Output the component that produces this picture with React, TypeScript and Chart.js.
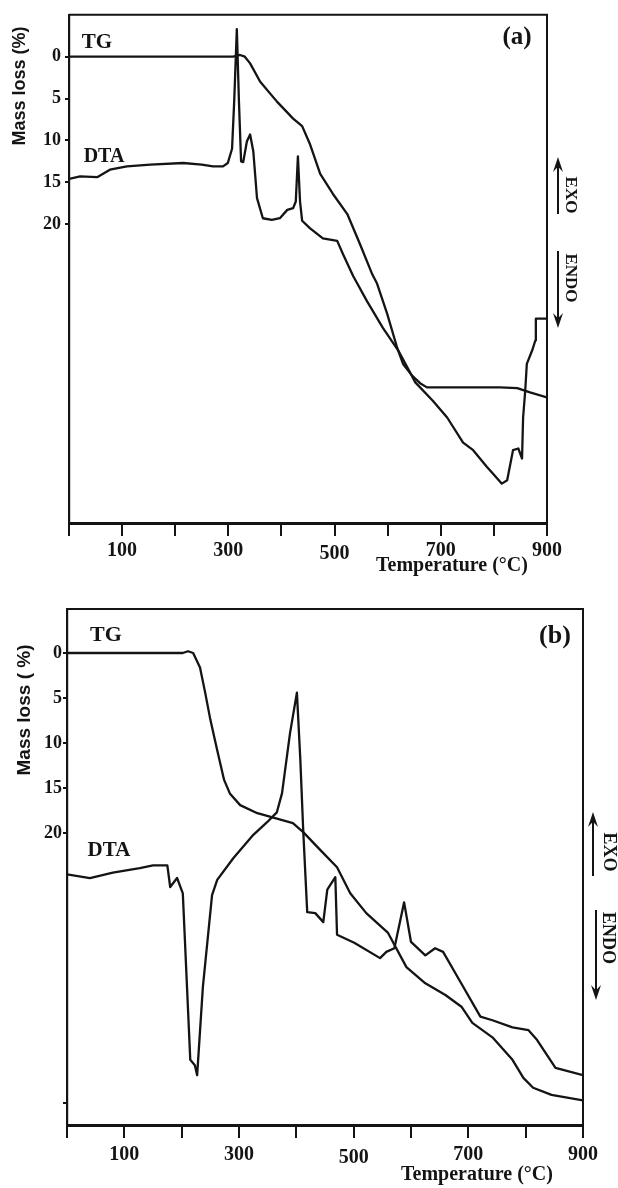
import React, { useEffect, useRef } from 'react';
import { Chart, registerables } from 'chart.js';

Chart.register(...registerables);

const SERIF = "'Liberation Serif', 'DejaVu Serif', serif";
const SANS = "'Liberation Sans', Arial, sans-serif";
const INK = '#141414';

// ---- axis ticks ----
const temperatureTicks = [0, 100, 200, 300, 400, 500, 600, 700, 800, 900];
const temperatureLabels = [100, 300, 500, 700, 900];
const massLossTicksA = [0, 5, 10, 15, 20];
const massLossTicksB = [0, 5, 10, 15, 20, 50];
const massLossLabels = [0, 5, 10, 15, 20];

// ---- panel (a) ----
const tgTempA = [0, 309, 322, 331, 341, 360, 392, 422, 439, 454, 473, 497, 524, 548, 571, 580, 599, 618, 629, 646, 661, 674, 750, 812, 844, 868, 900];
const tgMassA = [0, 0, -0.2, 0, 0.8, 3.0, 5.4, 7.4, 8.3, 10.5, 14.0, 16.4, 18.8, 22.4, 26.0, 27.1, 30.7, 34.8, 36.7, 38.1, 39.0, 39.5, 39.5, 39.5, 39.6, 40.1, 40.7];

const dtaTempA = [0, 21, 53, 77, 109, 153, 215, 250, 271, 290, 299, 307, 311, 316, 320, 324, 328, 335, 341, 347, 354, 365, 382, 397, 411, 422, 427, 431, 435, 439, 454, 478, 505, 516, 535, 561, 591, 620, 637, 652, 685, 712, 742, 761, 787, 798, 815, 825, 836, 846, 853, 855, 859, 862, 872, 878, 879, 900];
const dtaSignalA = [14.6, 14.3, 14.4, 13.5, 13.1, 12.9, 12.7, 12.9, 13.1, 13.1, 12.7, 11.0, 5.4, -3.3, 5.4, 12.5, 12.6, 10.1, 9.3, 11.3, 16.9, 19.3, 19.5, 19.3, 18.3, 18.1, 17.3, 11.9, 17.3, 19.6, 20.5, 21.7, 22.0, 23.6, 26.2, 29.2, 32.4, 35.1, 37.1, 38.9, 41.1, 43.1, 46.1, 47.0, 49.0, 49.8, 51.0, 50.6, 47.0, 46.8, 48.0, 43.1, 39.9, 36.7, 35.1, 33.9, 31.3, 31.3];

// ---- panel (b) ----
const tgTempB = [0, 202, 211, 220, 232, 241, 250, 262, 274, 284, 302, 332, 360, 394, 412, 442, 471, 494, 522, 560, 592, 625, 660, 688, 707, 742, 777, 796, 813, 845, 900];
const tgMassB = [0, 0, -0.2, 0, 1.6, 4.4, 7.4, 10.8, 14.1, 15.6, 16.9, 17.8, 18.3, 18.9, 19.9, 21.9, 23.8, 26.7, 28.9, 31.1, 34.9, 36.7, 38.0, 39.3, 41.1, 42.7, 45.2, 47.2, 48.3, 49.1, 49.7];

const dtaTempB = [0, 40, 80, 127, 150, 175, 180, 192, 202, 215, 223, 227, 237, 253, 262, 290, 325, 349, 366, 375, 389, 401, 407, 412, 419, 433, 447, 454, 468, 471, 501, 546, 557, 571, 588, 600, 625, 642, 656, 684, 721, 742, 777, 805, 820, 852, 900];
const dtaSignalB = [24.6, 25.0, 24.4, 23.9, 23.6, 23.6, 26.0, 25.0, 26.7, 45.2, 45.8, 46.9, 37.1, 26.9, 25.2, 22.8, 20.2, 18.8, 17.7, 15.6, 8.9, 4.4, 11.9, 19.7, 28.8, 28.9, 29.9, 26.3, 24.9, 31.3, 32.2, 33.9, 33.2, 32.8, 27.7, 32.1, 33.6, 32.8, 33.2, 36.3, 40.4, 40.8, 41.6, 41.9, 43.0, 46.1, 46.9];

type Note = { text: string; x: number; y: number; size: number; family: string; rot?: number };
type Arrow = { x: number; from: number; tip: number };

type PanelSpec = {
  tgT: number[]; tgV: number[]; dtaT: number[]; dtaV: number[];
  yMin: number; yMax: number; yTicks: number[];
  area: { left: number; right: number; top: number; bottom: number };
  yTickPad: number; xTickPad: number;
  notes: Note[]; arrows: Arrow[];
};

const panelA: PanelSpec = {
  tgT: tgTempA, tgV: tgMassA, dtaT: dtaTempA, dtaV: dtaSignalA,
  yMin: -5.0, yMax: 55.7, yTicks: massLossTicksA,
  area: { left: 69, right: 547, top: 13, bottom: 523 },
  yTickPad: 4, xTickPad: 3,
  notes: [
    { text: 'TG', x: 97, y: 43, size: 21, family: SERIF },
    { text: 'DTA', x: 104, y: 157, size: 20, family: SERIF },
    { text: '(a)', x: 517, y: 38, size: 25, family: SERIF },
    { text: 'Mass loss (%)', x: 20, y: 86, size: 18, family: SANS, rot: -Math.PI / 2 },
    { text: 'Temperature (°C)', x: 452, y: 566, size: 20, family: SERIF },
    { text: 'EXO', x: 570, y: 195, size: 17, family: SERIF, rot: Math.PI / 2 },
    { text: 'ENDO', x: 570, y: 278, size: 17, family: SERIF, rot: Math.PI / 2 },
  ],
  arrows: [
    { x: 558, from: 214, tip: 157 },
    { x: 558, from: 251, tip: 328 },
  ],
};

const panelB: PanelSpec = {
  tgT: tgTempB, tgV: tgMassB, dtaT: dtaTempB, dtaV: dtaSignalB,
  yMin: -4.89, yMax: 52.44, yTicks: massLossTicksB,
  area: { left: 67, right: 583, top: 19, bottom: 535 },
  yTickPad: 1, xTickPad: 5,
  notes: [
    { text: 'TG', x: 106, y: 45, size: 22, family: SERIF },
    { text: 'DTA', x: 109, y: 261, size: 21, family: SERIF },
    { text: '(b)', x: 555, y: 46, size: 26, family: SERIF },
    { text: 'Mass loss ( %)', x: 25, y: 120, size: 19, family: SANS, rot: -Math.PI / 2 },
    { text: 'Temperature (°C)', x: 477, y: 585, size: 20, family: SERIF },
    { text: 'EXO', x: 609, y: 262, size: 18, family: SERIF, rot: Math.PI / 2 },
    { text: 'ENDO', x: 608, y: 348, size: 18, family: SERIF, rot: Math.PI / 2 },
  ],
  arrows: [
    { x: 593, from: 286, tip: 222 },
    { x: 596, from: 320, tip: 410 },
  ],
};

function makeDecor(notes: Note[], arrows: Arrow[]) {
  return {
    id: 'decor',
    afterDraw(chart: any) {
      const { ctx, chartArea: a } = chart;
      ctx.save();
      ctx.strokeStyle = INK;
      ctx.fillStyle = INK;
      ctx.lineWidth = 2;
      ctx.beginPath();
      ctx.moveTo(a.left, a.top);
      ctx.lineTo(a.right, a.top);
      ctx.lineTo(a.right, a.bottom);
      ctx.stroke();

      for (const n of notes) {
        ctx.save();
        ctx.font = `bold ${n.size}px ${n.family}`;
        ctx.textAlign = 'center';
        ctx.textBaseline = 'middle';
        ctx.translate(n.x, n.y);
        if (n.rot) ctx.rotate(n.rot);
        ctx.fillText(n.text, 0, 0);
        ctx.restore();
      }

      for (const ar of arrows) {
        const dir = ar.tip < ar.from ? -1 : 1;
        const headLen = 15;
        const headHalf = 5;
        ctx.lineWidth = 2;
        ctx.beginPath();
        ctx.moveTo(ar.x, ar.from);
        ctx.lineTo(ar.x, ar.tip - dir * headLen * 0.6);
        ctx.stroke();
        ctx.beginPath();
        ctx.moveTo(ar.x, ar.tip);
        ctx.lineTo(ar.x - headHalf, ar.tip - dir * headLen);
        ctx.lineTo(ar.x, ar.tip - dir * headLen * 0.65);
        ctx.lineTo(ar.x + headHalf, ar.tip - dir * headLen);
        ctx.closePath();
        ctx.fill();
      }
      ctx.restore();
    },
  };
}

function toPoints(xs: number[], ys: number[]) {
  return xs.map((x, i) => ({ x, y: ys[i] }));
}

function buildConfig(spec: PanelSpec, height: number): any {
  const lineStyle = {
    borderColor: INK,
    borderWidth: 2.3,
    pointRadius: 0,
    tension: 0,
    fill: false,
    borderJoinStyle: 'round',
    borderCapStyle: 'round',
  };
  return {
    type: 'line',
    data: {
      datasets: [
        { label: 'TG', data: toPoints(spec.tgT, spec.tgV), ...lineStyle },
        { label: 'DTA', data: toPoints(spec.dtaT, spec.dtaV), ...lineStyle },
      ],
    },
    options: {
      responsive: false,
      animation: false,
      events: [],
      layout: { padding: { left: 0, top: spec.area.top, right: 618 - spec.area.right, bottom: 0 } },
      plugins: { legend: { display: false }, tooltip: { enabled: false } },
      scales: {
        x: {
          type: 'linear',
          min: 0,
          max: 900,
          afterBuildTicks: (s: any) => { s.ticks = temperatureTicks.map((value) => ({ value })); },
          afterFit: (s: any) => { s.height = height - spec.area.bottom; },
          border: { display: true, color: INK, width: 3 },
          grid: { display: true, drawOnChartArea: false, drawTicks: true, tickLength: 13, color: INK, lineWidth: 2 },
          ticks: {
            autoSkip: false,
            maxRotation: 0,
            padding: spec.xTickPad,
            color: INK,
            callback: (v: number) => (temperatureLabels.includes(v) ? String(v) : ''),
            font: (c: any) => ({
              family: SERIF,
              size: 20,
              weight: 'bold',
              lineHeight: c.tick && c.tick.value === 500 ? 1.5 : 1.2,
            }),
          },
        },
        y: {
          type: 'linear',
          reverse: true,
          min: spec.yMin,
          max: spec.yMax,
          afterBuildTicks: (s: any) => { s.ticks = spec.yTicks.map((value) => ({ value })); },
          afterFit: (s: any) => { s.width = spec.area.left; },
          border: { display: true, color: INK, width: 2.2 },
          grid: { display: true, drawOnChartArea: false, drawTicks: true, tickLength: 4, color: INK, lineWidth: 2 },
          ticks: {
            autoSkip: false,
            padding: spec.yTickPad,
            color: INK,
            callback: (v: number) => (massLossLabels.includes(v) ? String(v) : ''),
            font: { family: SERIF, size: 18, weight: 'bold' },
          },
        },
      },
    },
    plugins: [makeDecor(spec.notes, spec.arrows)],
  };
}

function PanelChart({ top, height, spec }: { top: number; height: number; spec: PanelSpec }) {
  const ref = useRef<HTMLCanvasElement>(null);
  useEffect(() => {
    if (!ref.current) return;
    const chart = new Chart(ref.current, buildConfig(spec, height));
    return () => chart.destroy();
  }, [spec, height]);
  return (
    <canvas
      ref={ref}
      width={618}
      height={height}
      style={{ position: 'absolute', left: 0, top, width: 618, height, display: 'block' }}
    />
  );
}

export default function App() {
  return (
    <div style={{ position: 'absolute', left: 0, top: 0, width: 618, height: 1188, background: '#ffffff', overflow: 'hidden' }}>
      <PanelChart top={0} height={590} spec={panelA} />
      <PanelChart top={590} height={598} spec={panelB} />
    </div>
  );
}
